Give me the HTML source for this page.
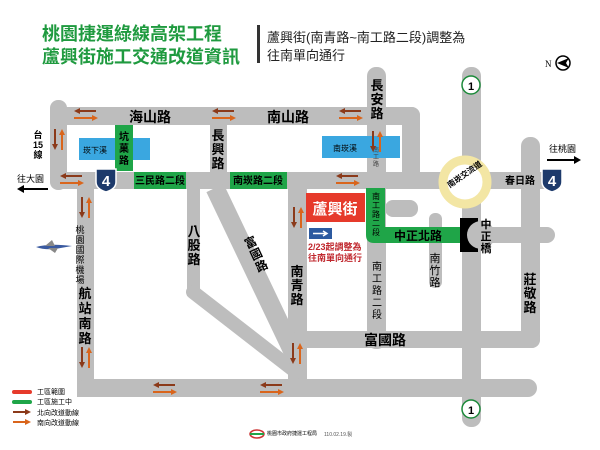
<!DOCTYPE html>
<html><head><meta charset="utf-8"><style>
html,body{margin:0;padding:0;background:#fff;}
svg{display:block;font-family:"Liberation Sans","Noto Sans CJK TC",sans-serif;}
</style></head><body>
<svg width="600" height="450" viewBox="0 0 600 450" xmlns="http://www.w3.org/2000/svg">
<defs>
<g id="hp">
<path d="M2,0 H22" stroke="#8b3a1a" stroke-width="2"/><path d="M0,0 L6,-3 V3Z" fill="#8b3a1a"/>
<path d="M0,7 H20" stroke="#d9651c" stroke-width="2"/><path d="M24,7 L18,4 V10Z" fill="#d9651c"/>
</g>
<g id="vp">
<path d="M0,0 V18" stroke="#8b3a1a" stroke-width="2"/><path d="M0,21 L-3,15 H3Z" fill="#8b3a1a"/>
<path d="M7,3 V21" stroke="#d9651c" stroke-width="2"/><path d="M7,0 L4,6 H10Z" fill="#d9651c"/>
</g>
<g id="s4">
<path d="M-10,-11 H10 V2 Q10,9 0,12 Q-10,9 -10,2Z" fill="#1d3a6b" stroke="#fff" stroke-width="1.5"/>
<text x="0" y="6" font-size="15" font-weight="bold" fill="#fff" text-anchor="middle">4</text>
</g>
<g id="s1">
<circle r="9" fill="#fff" stroke="#1c8a3a" stroke-width="1.5"/>
<text x="0" y="5" font-size="11" font-weight="bold" fill="#000" text-anchor="middle">1</text>
</g>
</defs>
<g fill="#bdbdbd">
<rect x="50" y="107" width="370" height="18" rx="9"/>
<rect x="50" y="100" width="17" height="90" rx="8"/>
<rect x="50" y="172" width="510" height="17" rx="8"/>
<rect x="402" y="107" width="18" height="80" rx="8"/>
<rect x="77" y="172" width="17" height="225"/>
<rect x="77" y="379" width="460" height="18" rx="9"/>
<rect x="210" y="107" width="17" height="80"/>
<rect x="367" y="67" width="19" height="282" rx="9"/>
<rect x="462" y="67" width="19" height="360" rx="9"/>
<rect x="521" y="137" width="19" height="211" rx="9"/>
<rect x="288" y="331" width="252" height="17" rx="8"/>
<rect x="288" y="188" width="19" height="209"/>
<rect x="187" y="188" width="13" height="108"/>
<rect x="385" y="200" width="33" height="17" rx="8"/>
<rect x="429" y="213" width="13" height="75" rx="6"/>
<rect x="460" y="227" width="95" height="16" rx="8"/>
</g>
<path d="M193,292 L296,372" stroke="#bdbdbd" stroke-width="14" stroke-linecap="round"/>
<path d="M215,188 L297,360" stroke="#bdbdbd" stroke-width="19"/>
<circle cx="465" cy="182" r="22" fill="#fff" stroke="#f3e6a4" stroke-width="9"/>
<rect x="79" y="138" width="71" height="22" fill="#3aa7e0"/>
<rect x="322" y="136" width="78" height="22" fill="#3aa7e0"/>
<text x="83" y="153" font-size="8" fill="#000">崁下溪</text>
<text x="333" y="151" font-size="8" fill="#000">南崁溪</text>
<g fill="#1fa548">
<rect x="115" y="125" width="18" height="46"/>
<rect x="134" y="172" width="52" height="17"/>
<rect x="230" y="172" width="57" height="17"/>
<path d="M366,188 H385 V227 H460 V243 H374 Q366,243 366,235Z"/>
</g>
<text font-size="10" font-weight="bold" text-anchor="middle" fill="#000"><tspan x="124" y="140">坑</tspan><tspan x="124" y="152">菓</tspan><tspan x="124" y="164">路</tspan></text>
<text x="160" y="184" font-size="10" font-weight="bold" text-anchor="middle">三民路二段</text>
<text x="258" y="184" font-size="10" font-weight="bold" text-anchor="middle">南崁路二段</text>
<text font-size="8" text-anchor="middle"><tspan x="376" y="199">南</tspan><tspan x="376" y="208">工</tspan><tspan x="376" y="217">路</tspan><tspan x="376" y="226">二</tspan><tspan x="376" y="235">段</tspan></text>
<text x="418" y="240" font-size="12" font-weight="bold" text-anchor="middle">中正北路</text>
<path d="M460,218 H478 V252 H460Z" fill="#000"/><circle cx="481" cy="235" r="14" fill="#bdbdbd"/>
<text font-size="11" text-anchor="middle" font-weight="bold"><tspan x="486" y="228">中</tspan><tspan x="486" y="240">正</tspan><tspan x="486" y="252">橋</tspan></text>
<rect x="306" y="193" width="59" height="29" fill="#e63a2b"/>
<text x="335" y="214" font-size="15" font-weight="bold" fill="#fff" text-anchor="middle">蘆興街</text>
<rect x="309" y="228" width="23" height="11" fill="#2c5aa0"/>
<path d="M313,233.5 H326 M323,231 L327,233.5 L323,236" stroke="#fff" stroke-width="1.5" fill="none"/>
<text x="308" y="250" font-size="9" font-weight="bold" fill="#c0272d">2/23起調整為</text>
<text x="308" y="261" font-size="9" font-weight="bold" fill="#c0272d">往南單向通行</text>
<text x="42" y="40" font-size="18" font-weight="bold" fill="#1f9a3f">桃園捷運綠線高架工程</text>
<text x="42" y="63" font-size="18" font-weight="bold" fill="#1f9a3f">蘆興街施工交通改道資訊</text>
<rect x="257" y="25" width="3" height="38" fill="#333"/>
<text x="267" y="42" font-size="13" fill="#222">蘆興街(南青路~南工路二段)調整為</text>
<text x="267" y="60" font-size="13" fill="#222">往南單向通行</text>
<text x="545" y="67" font-size="9" font-family="Liberation Serif">N</text>
<circle cx="563" cy="63" r="7" fill="#fff" stroke="#000" stroke-width="1.5"/>
<path d="M557,63 L569,58 L566,63 L569,68Z" fill="#000"/>
<text x="150" y="122" font-size="14" font-weight="bold" text-anchor="middle">海山路</text>
<text x="288" y="122" font-size="14" font-weight="bold" text-anchor="middle">南山路</text>
<text font-size="13" font-weight="bold" text-anchor="middle"><tspan x="218" y="140">長</tspan><tspan x="218" y="154">興</tspan><tspan x="218" y="168">路</tspan></text>
<text font-size="13" font-weight="bold" text-anchor="middle"><tspan x="377" y="90">長</tspan><tspan x="377" y="104">安</tspan><tspan x="377" y="118">路</tspan></text>
<text font-size="6" text-anchor="middle" fill="#444"><tspan x="376" y="152">南</tspan><tspan x="376" y="159">工</tspan><tspan x="376" y="166">路</tspan></text>
<text font-size="9" font-weight="bold" text-anchor="middle"><tspan x="38" y="138">台</tspan><tspan x="38" y="148">15</tspan><tspan x="38" y="158">線</tspan></text>
<text x="17" y="182" font-size="9">往大園</text>
<path d="M22,189 H48" stroke="#000" stroke-width="2"/><path d="M17,189 L24,185 V193Z"/>
<text x="549" y="152" font-size="9">往桃園</text>
<path d="M547,160 H574" stroke="#000" stroke-width="2"/><path d="M581,160 L574,156 V164Z"/>
<text x="520" y="184" font-size="10" font-weight="bold" text-anchor="middle">春日路</text>
<text x="465" y="177" font-size="8" font-weight="bold" text-anchor="middle" transform="rotate(-35 465 175)">南崁交流道</text>
<text font-size="13" font-weight="bold" text-anchor="middle"><tspan x="194" y="236">八</tspan><tspan x="194" y="250">股</tspan><tspan x="194" y="264">路</tspan></text>
<text font-size="12" font-weight="bold" text-anchor="middle" transform="rotate(-25 258 258)"><tspan x="258" y="245">富</tspan><tspan x="258" y="258">國</tspan><tspan x="258" y="271">路</tspan></text>
<text font-size="13" font-weight="bold" text-anchor="middle"><tspan x="297" y="276">南</tspan><tspan x="297" y="290">青</tspan><tspan x="297" y="304">路</tspan></text>
<text font-size="10" text-anchor="middle"><tspan x="377" y="270">南</tspan><tspan x="377" y="282">工</tspan><tspan x="377" y="294">路</tspan><tspan x="377" y="306">二</tspan><tspan x="377" y="318">段</tspan></text>
<text font-size="11" text-anchor="middle"><tspan x="435" y="262">南</tspan><tspan x="435" y="274">竹</tspan><tspan x="435" y="286">路</tspan></text>
<text font-size="13" font-weight="bold" text-anchor="middle"><tspan x="530" y="284">莊</tspan><tspan x="530" y="298">敬</tspan><tspan x="530" y="312">路</tspan></text>
<text x="385" y="345" font-size="14" font-weight="bold" text-anchor="middle">富國路</text>
<text font-size="9" text-anchor="middle"><tspan x="80" y="233">桃</tspan><tspan x="80" y="243">園</tspan><tspan x="80" y="253">國</tspan><tspan x="80" y="263">際</tspan><tspan x="80" y="273">機</tspan><tspan x="80" y="283">場</tspan></text>
<text font-size="13" font-weight="bold" text-anchor="middle"><tspan x="85" y="298">航</tspan><tspan x="85" y="313">站</tspan><tspan x="85" y="328">南</tspan><tspan x="85" y="343">路</tspan></text>
<path d="M36,247 Q50,243 72,246 L55,249 Q44,250 36,247Z" fill="#3a5aa0"/>
<path d="M45,246 L52,240 L55,246Z M48,248 L55,253 L58,248Z" fill="#888"/>
<use href="#hp" x="74" y="111"/><use href="#hp" x="212" y="111"/><use href="#hp" x="339" y="111"/>
<use href="#hp" x="60" y="176"/><use href="#hp" x="336" y="176"/>
<use href="#hp" x="153" y="385"/><use href="#hp" x="260" y="385"/>
<use href="#vp" x="55" y="129"/><use href="#vp" x="373" y="131"/><use href="#vp" x="82" y="197"/>
<use href="#vp" x="294" y="207"/><use href="#vp" x="293" y="343"/><use href="#vp" x="82" y="347"/>
<use href="#s4" x="106" y="180"/><use href="#s4" x="552" y="180"/>
<use href="#s1" x="471" y="85"/><use href="#s1" x="471" y="409"/>
<rect x="12" y="390" width="20" height="4" rx="2" fill="#e63a2b"/>
<text x="37" y="394" font-size="7">工區範圍</text>
<rect x="12" y="400" width="20" height="4" rx="2" fill="#1fa548"/>
<text x="37" y="404" font-size="7">工區施工中</text>
<path d="M13,412 H26" stroke="#8b3a1a" stroke-width="2"/><path d="M31,412 L25,409 V415Z" fill="#8b3a1a"/>
<text x="37" y="415" font-size="7">北向改道動線</text>
<path d="M13,422 H26" stroke="#d9651c" stroke-width="2"/><path d="M31,422 L25,419 V425Z" fill="#d9651c"/>
<text x="37" y="425" font-size="7">南向改道動線</text>
<ellipse cx="257" cy="434" rx="7" ry="4" fill="#fff" stroke="#c33" stroke-width="1.5"/>
<path d="M250,434 H264" stroke="#1fa548" stroke-width="2"/>
<text x="267" y="435" font-size="5">桃園市政府捷運工程局</text>
<text x="324" y="436" font-size="5" fill="#555">110.02.19.製</text>
</svg>
</body></html>
